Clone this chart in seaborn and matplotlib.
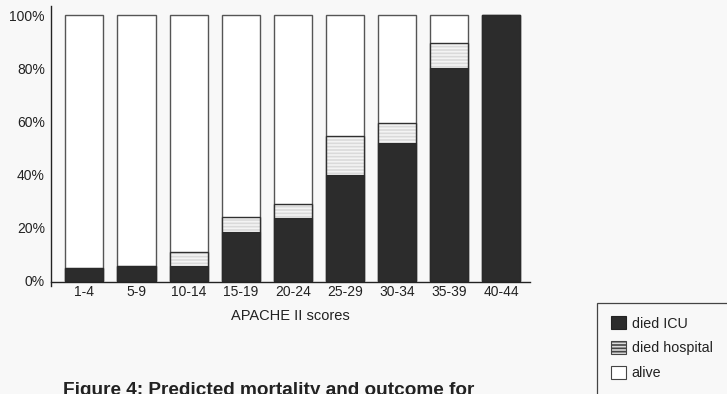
import matplotlib
matplotlib.use("Agg")
import matplotlib.pyplot as plt
import matplotlib.patches as mpatches
import seaborn as sns
import pandas as pd
import numpy as np

# ---- data (percent of patients) ----
categories = ["1-4", "5-9", "10-14", "15-19", "20-24", "25-29", "30-34", "35-39", "40-44"]
died_icu = [4.8, 5.6, 5.8, 18.3, 23.6, 39.8, 51.8, 80.0, 100.0]
died_hospital = [0.0, 0.0, 5.2, 5.6, 5.3, 14.8, 7.5, 9.4, 0.0]
alive = [95.2, 94.4, 89.0, 76.1, 71.1, 45.4, 40.7, 10.6, 0.0]
ytick_labels = ["0%", "20%", "40%", "60%", "80%", "100%"]
xlabel = "APACHE II scores"
legend_labels = ["died ICU", "died hospital", "alive"]
caption = "Figure 4: Predicted mortality and outcome for"

sns.set_theme(style="white")
plt.rcParams["font.family"] = ["Liberation Sans", "DejaVu Sans"]
plt.rcParams["hatch.linewidth"] = 1.2

W, H = 727, 394
bg = "#f8f8f8"
dark = "#2c2c2c"
grey = "#dadada"

fig = plt.figure(figsize=(W / 100, H / 100), dpi=100, facecolor=bg)
ax = fig.add_axes([50.5 / W, 1 - 282 / H, (530 - 50.5) / W, (282 - 6) / H])
ax.set_facecolor(bg)

df = pd.DataFrame({"cat": categories, "icu": died_icu, "hosp": died_hospital, "alive": alive})
df["top_hosp"] = df["icu"] + df["hosp"]
df["top_all"] = df["top_hosp"] + df["alive"]

bw = 0.73
sns.barplot(data=df, x="cat", y="top_all", color="white", width=bw, ax=ax,
            edgecolor="#555555", linewidth=1.0, saturation=1)
sns.barplot(data=df, x="cat", y="top_hosp", color=grey, width=bw, ax=ax,
            edgecolor="#333333", linewidth=1.0, saturation=1, hatch="-----")
sns.barplot(data=df, x="cat", y="icu", color=dark, width=bw, ax=ax,
            edgecolor="#2a2a2a", linewidth=0.8, saturation=1)

for p in ax.patches:
    if p.get_hatch():
        p.set_edgecolor("#303030")
        p._hatch_color = matplotlib.colors.to_rgba("#f4f4f4")

ax.set_xlim(-0.65, 8.55)
ax.set_ylim(-0.4, 103.4)
ax.set_yticks([0, 20, 40, 60, 80, 100])
ax.set_yticklabels(ytick_labels)
ax.tick_params(axis="y", length=0, pad=4, labelsize=10, colors="#222222")
ax.tick_params(axis="x", length=0, pad=2, labelsize=10, colors="#222222")
ax.set_xlabel(xlabel, fontsize=10.5, color="#222222", labelpad=7)
ax.set_ylabel("")

for s in ["top", "right"]:
    ax.spines[s].set_visible(False)
for s in ["left", "bottom"]:
    ax.spines[s].set_color("#222222")
    ax.spines[s].set_linewidth(1.0)
ax.spines["left"].set_bounds(-2.0, 103.4)

# legend (frame runs off the canvas like the reference)
fig.patches.append(mpatches.Rectangle((597 / W, 1 - 420 / H), 160 / W, (420 - 303) / H,
                                      transform=fig.transFigure, facecolor="none",
                                      edgecolor="#444444", linewidth=0.9))
handles = [
    mpatches.Patch(facecolor=dark, edgecolor="#222222", linewidth=0.8),
    mpatches.Patch(facecolor=grey, edgecolor="#444444", linewidth=0.8, hatch="-----"),
    mpatches.Patch(facecolor="white", edgecolor="#444444", linewidth=0.8),
]
leg = fig.legend(handles, legend_labels, loc="upper left",
                 bbox_to_anchor=(601 / W, 1 - 306 / H), frameon=False,
                 fontsize=10.3, handlelength=1.05, handleheight=1.05,
                 handletextpad=0.4, labelspacing=0.72, borderpad=0.2)
for t in leg.get_texts():
    t.set_color("#222222")

fig.text(63 / W, 1 - 382 / H, caption, ha="left", va="top",
         fontsize=13.7, fontweight="bold", color="#222222")

fig.savefig("out.png", dpi=100, facecolor=bg)
